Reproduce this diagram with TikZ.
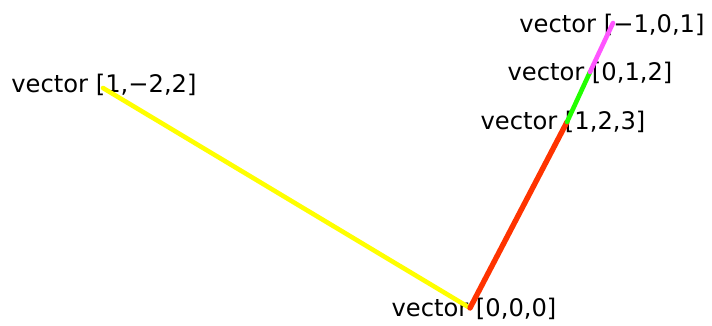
\documentclass[tikz,border=0pt]{standalone}
\usepackage{fontspec}
\setmainfont{DejaVu Sans}
\usepackage{xcolor}
\usepackage{tikz}
\definecolor{vyellow}{HTML}{FFFF00}
\definecolor{vred}{HTML}{FF3300}
\definecolor{vgreen}{HTML}{22FF00}
\definecolor{vpink}{HTML}{FF55FF}

\begin{document}
\begin{tikzpicture}[x=1pt,y=1pt,font=\fontsize{24.2}{28}\selectfont,
   vec/.style={inner sep=0pt,anchor=center},
   arm/.style={line width=4.6pt,line cap=round}]
  \useasboundingbox (0,0) rectangle (712,326);
  \node[vec] (orig) at (474,17) {vector [0,0,0]};
  \node[vec] (left) at (104,241) {vector [1,−2,2]};
  \node[vec] (one) at (563,204) {vector [1,2,3]};
  \node[vec] (two) at (590,253) {vector [0,1,2]};
  \node[vec] (top) at (612,301) {vector [−1,0,1]};
  \coordinate (po) at (470,18);
  \coordinate (pa) at (103,238);
  \coordinate (pb) at (567,204);
  \coordinate (pc) at (590,254);
  \coordinate (pd) at (613,303);
  \draw[arm,vyellow] (po) -- (pa);
  \draw[arm,vred,line width=5.4pt] (po) -- (pb);
  \draw[arm,vgreen] (pb) -- (pc);
  \draw[arm,vpink] (pc) -- (pd);
\end{tikzpicture}
\end{document}
